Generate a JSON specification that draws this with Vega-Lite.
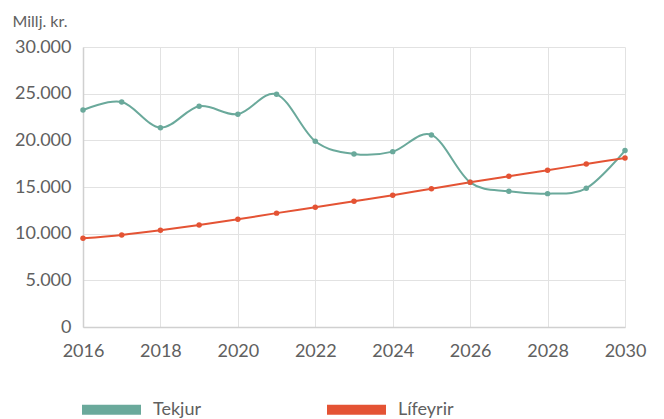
{
  "$schema": "https://vega.github.io/schema/vega-lite/v6.json",
  "width": 542,
  "height": 280,
  "autosize": {"type": "none"},
  "padding": {"left": 83, "top": 47, "right": 39, "bottom": 92},
  "background": "white",
  "config": {
    "font": "Lato",
    "view": {"stroke": null},
    "locale": {"number": {"decimal": ",", "thousands": ".", "grouping": [3], "currency": ["", " kr."]}}
  },
  "data": {
    "values": [
      {"year": 2016, "series": "Tekjur", "value": 23250},
      {"year": 2017, "series": "Tekjur", "value": 24100},
      {"year": 2018, "series": "Tekjur", "value": 21360},
      {"year": 2019, "series": "Tekjur", "value": 23650},
      {"year": 2020, "series": "Tekjur", "value": 22800},
      {"year": 2021, "series": "Tekjur", "value": 24930},
      {"year": 2022, "series": "Tekjur", "value": 19900},
      {"year": 2023, "series": "Tekjur", "value": 18540},
      {"year": 2024, "series": "Tekjur", "value": 18790},
      {"year": 2025, "series": "Tekjur", "value": 20580},
      {"year": 2026, "series": "Tekjur", "value": 15500},
      {"year": 2027, "series": "Tekjur", "value": 14540},
      {"year": 2028, "series": "Tekjur", "value": 14290},
      {"year": 2029, "series": "Tekjur", "value": 14860},
      {"year": 2030, "series": "Tekjur", "value": 18900},
      {"year": 2016, "series": "Lífeyrir", "value": 9500},
      {"year": 2017, "series": "Lífeyrir", "value": 9860},
      {"year": 2018, "series": "Lífeyrir", "value": 10360},
      {"year": 2019, "series": "Lífeyrir", "value": 10930},
      {"year": 2020, "series": "Lífeyrir", "value": 11540},
      {"year": 2021, "series": "Lífeyrir", "value": 12200},
      {"year": 2022, "series": "Lífeyrir", "value": 12830},
      {"year": 2023, "series": "Lífeyrir", "value": 13470},
      {"year": 2024, "series": "Lífeyrir", "value": 14110},
      {"year": 2025, "series": "Lífeyrir", "value": 14820},
      {"year": 2026, "series": "Lífeyrir", "value": 15500},
      {"year": 2027, "series": "Lífeyrir", "value": 16150},
      {"year": 2028, "series": "Lífeyrir", "value": 16790},
      {"year": 2029, "series": "Lífeyrir", "value": 17470},
      {"year": 2030, "series": "Lífeyrir", "value": 18110}
    ]
  },
  "encoding": {
    "x": {
      "field": "year", "type": "quantitative",
      "scale": {"domain": [2016, 2030], "nice": false, "zero": false},
      "axis": {
        "title": null, "format": "d", "values": [2016, 2018, 2020, 2022, 2024, 2026, 2028, 2030],
        "grid": true, "gridColor": "#e2e2e2", "gridWidth": 1,
        "domainColor": "#d0d0d0", "domainWidth": 1.5, "ticks": false,
        "labelFontSize": 18, "labelColor": "#606060", "labelPadding": 15,
        "labelBaseline": "top", "labelFlush": false
      }
    },
    "y": {
      "field": "value", "type": "quantitative",
      "scale": {"domain": [0, 30000], "nice": false},
      "axis": {
        "title": "Millj. kr.", "titleAngle": 0, "titleAlign": "left", "titleBaseline": "alphabetic",
        "titleX": -71, "titleY": -21, "titleFontSize": 16, "titleFontWeight": "normal", "titleColor": "#606060",
        "values": [0, 5000, 10000, 15000, 20000, 25000, 30000], "format": ",d",
        "grid": true, "gridColor": "#e2e2e2", "gridWidth": 1,
        "domainColor": "#d0d0d0", "domainWidth": 1.5, "ticks": false,
        "labelFontSize": 18, "labelColor": "#606060", "labelPadding": 12
      }
    },
    "color": {
      "field": "series", "type": "nominal",
      "scale": {"domain": ["Tekjur", "Lífeyrir"], "range": ["#6aa99b", "#e45334"]},
      "legend": {
        "title": null, "orient": "none", "legendX": -1, "legendY": 333, "direction": "horizontal",
        "symbolType": "M-1,-0.17H1V0.17H-1Z", "symbolSize": 3481, "symbolStrokeWidth": 0,
        "labelFontSize": 18, "labelColor": "#606060", "labelOffset": 12, "columnPadding": 126
      }
    }
  },
  "layer": [
    {
      "mark": {"type": "line", "interpolate": "cardinal", "strokeWidth": 2}
    },
    {
      "mark": {"type": "point", "filled": true, "size": 30, "opacity": 1}
    }
  ]
}
